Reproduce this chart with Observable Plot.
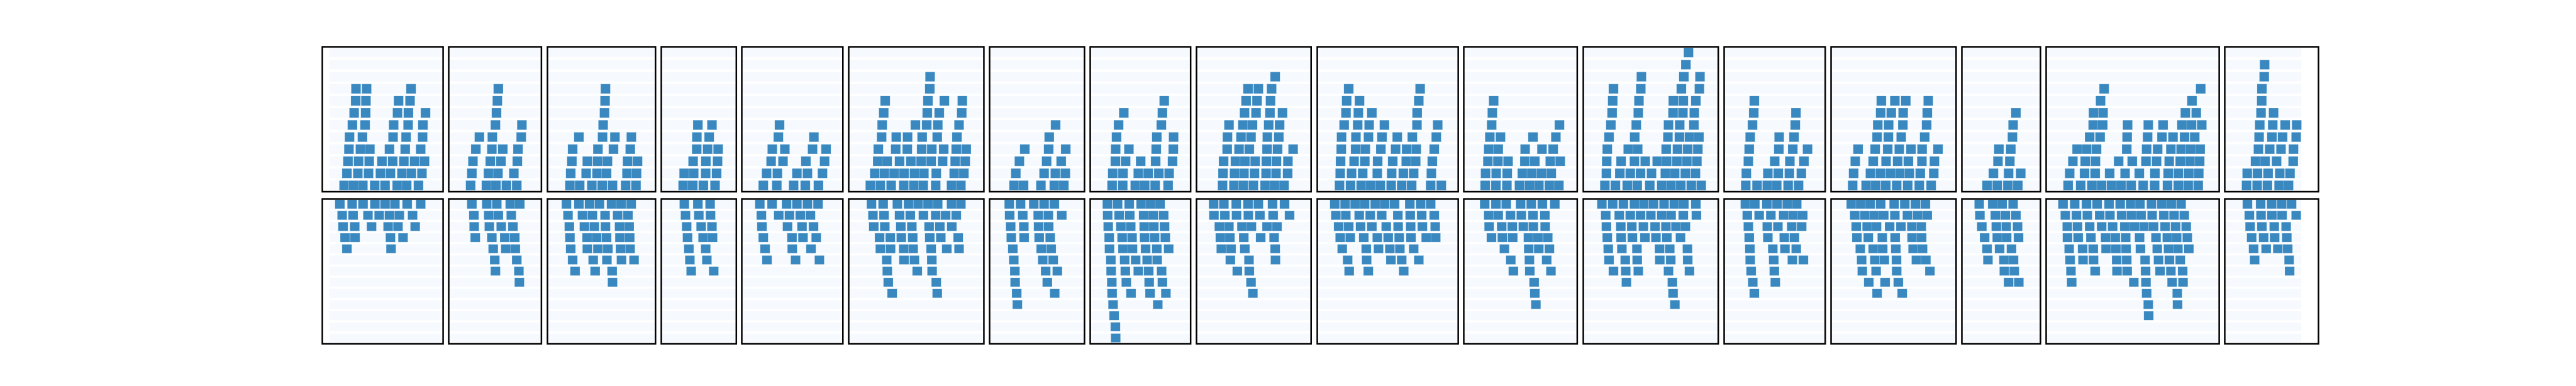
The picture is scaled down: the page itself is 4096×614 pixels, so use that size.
<!DOCTYPE html>
<html><head><meta charset="utf-8">
<script src="https://cdn.jsdelivr.net/npm/d3@7"></script>
<script src="https://cdn.jsdelivr.net/npm/@observablehq/plot@0.6"></script>
<style>
html,body{margin:0;padding:0;background:#fff;}
body{width:4096px;height:614px;position:relative;overflow:hidden;}
#chart{position:absolute;left:0;top:0;width:4096px;height:614px;}
#chart svg{position:absolute;display:block;max-width:none;}
</style></head><body><div id="chart"></div>
<script>
// Panel widths (x extent of each segment, in x units)
const panelWidths = [125.1, 96.0, 111.9, 77.7, 104.7, 140.0, 98.3, 104.0, 118.7, 146.0, 117.5, 139.8, 104.7, 129.5, 81.4, 179.2, 97.1];
// Stripe extent of the whole series (start in first panel, end in last panel)
const stripeStart = 7.6;
const stripeEnd = 79.6;
const topLevels = 12;
const bottomLevels = 13;

// Each panel: list of rows (row 0 next to the middle), each row a list of x positions of the squares
const p01Top = [[17.9,27.7,37.3,49.6,60.3,72.9,82.7,94.9],[20.8,32.1,43.2,55.5,65.9,77.8,87.6,98.5],[21.9,32.9,43.9,57.1,68.2,79.8,90.9,101.2],[22.9,34.8,44.6,64.9,81.2,97.2],[23.5,36.9,68.6,82.1,99.2],[26.5,39.6,69.2,84.2,99.5],[28.3,40.2,73.2,84.5,102.2],[29.9,40.5,74.3,86.2],[30.2,41.2,87.2]];
const p01Bottom = [[13.5,26.2,37.5,49.8,60.3,70.5,83.2,97.2],[15.9,27.2,42.6,54.2,64.9,75.1,88.8],[16.8,28.9,46.3,63.5,73.7,91.5],[18.9,29.2,65.9,78.9],[20.8,66.5]];
const p02Top = [[18.0,34.4,44.2,55.1,65.8],[19.3,36.5,46.3,62.8],[20.4,38.4,49.4,66.4],[23.4,40.0,51.3,67.1],[27.1,40.5,70.4],[43.7,71.1],[44.8],[45.7],[46.7]];
const p02Bottom = [[19.3,34.7,45.1,59.1,68.9],[21.4,36.8,46.7,60.1],[21.7,37.4,49.7,61.8],[22.8,40.0,53.4,63.7],[41.4,54.5,64.3],[43.0,65.8],[43.7,68.0],[68.5]];
const p03Top = [[18.6,28.7,41.3,52.0,62.7,76.3,87.0],[19.4,35.4,46.7,56.5,77.7,87.6],[20.6,36.6,47.3,57.5,78.3,88.6],[21.4,47.6,63.7,81.1],[27.9,52.4,65.2,82.2],[53.0],[54.4],[55.0],[55.4]];
const p03Bottom = [[15.0,27.9,38.9,49.2,61.7,71.6,82.0],[16.6,31.6,41.9,55.0,68.0,78.7],[18.0,33.6,43.9,55.4,70.0,79.9],[18.6,36.4,46.3,56.5,70.4,80.5],[19.4,36.6,47.6,57.9,71.0,80.9],[21.4,42.7,56.9,72.0,85.0],[23.9,44.7,62.3],[62.7]];
const p04Top = [[18.0,27.9,38.9,51.0],[19.0,28.9,41.3,52.6],[28.3,41.5,53.6],[32.0,43.3,54.2],[32.2,44.9],[33.2,47.8]];
const p04Bottom = [[19.2,33.2,45.9],[20.4,34.2,46.3],[21.6,36.6,47.8],[22.5,38.6,48.4],[23.9,41.3],[24.9,42.5],[26.3,49.6]];
const p05Top = [[17.6,31.6,49.0,61.1,74.7],[21.0,32.2,52.4,63.3,78.9],[25.7,38.0,61.7,81.1],[26.9,39.9,68.6,82.6],[33.2,70.0],[34.4]];
const p05Bottom = [[14.0,26.7,41.7,52.4,63.3,74.3],[15.6,33.6,44.7,55.9,66.4],[16.2,42.7,57.7,69.6],[17.6,47.3,58.7,72.4],[19.4,47.6,67.0],[21.4,51.0,75.7]];
const p06Top = [[17.7,28.1,39.3,52.3,62.8,72.5,85.4,101.8,111.5],[22.3,32.3,42.4,52.6,63.4,73.2,86.0,104.6,114.6],[25.4,35.1,48.0,59.7,70.3,80.7,92.6,105.6,116.0],[26.0,44.0,56.0,70.9,81.4,93.7,106.7,117.0],[29.4,44.6,56.3,71.4,87.0,107.4],[30.0,64.4,76.1,87.6,109.6],[31.6,76.7,89.1,112.4],[33.1,77.4,94.4,113.0],[79.3],[79.6]];
const p06Bottom = [[18.9,31.0,45.7,57.3,67.2,77.5,87.5,101.8,111.5],[20.4,31.9,48.0,59.1,72.7,85.4,95.7,106.7],[21.3,32.7,49.3,60.7,78.6,89.7,102.1],[27.3,38.4,49.8,61.6,79.3,90.7,108.7],[28.1,38.7,52.3,62.1,80.7,96.9,109.6],[34.7,52.6,63.4,81.4],[35.3,66.3,81.7],[36.3,86.0],[40.3,87.0]];
const p07Top = [[20.7,30.5,48.5,62.4,72.2],[22.5,51.8,63.4,73.8],[26.2,54.4,69.5],[31.8,56.5,74.2],[57.1],[63.7]];
const p07Bottom = [[15.7,27.4,41.1,51.8,62.4],[16.1,29.7,45.7,56.2,70.1],[17.2,30.8,46.1,56.5],[17.8,31.1,46.7,58.1],[19.4,48.8,59.1],[20.4,50.4,61.2],[21.5,53.4,65.5],[21.8,55.1],[23.4,62.8],[24.1]];
const p08Top = [[18.0,29.0,42.0,51.8,62.6,76.0],[18.7,29.3,45.1,55.4,66.4,77.1],[21.4,32.0,47.6,63.1,80.6],[21.7,35.4,63.7,81.4],[22.6,64.3,81.7],[24.7,69.0],[30.1,70.1],[72.0]];
const p08Bottom = [[13.1,23.7,35.7,48.1,57.9,67.7],[13.4,25.3,36.3,50.7,60.6,71.4],[14.0,27.1,37.3,51.3,61.2,72.3],[15.0,28.4,38.7,51.6,62.0,73.1],[15.3,29.3,39.1,52.7,64.3,76.6],[16.7,31.0,42.4,54.3,64.7],[17.0,31.7,45.1,55.9,69.3],[17.7,32.7,56.4,70.1],[18.0,37.6,57.3,73.7],[19.0,65.3],[20.1],[21.4],[21.7]];
const p09Top = [[22.3,34.1,43.9,54.3,66.4,76.2,86.0],[22.8,34.7,44.5,55.4,67.4,77.7,89.7],[23.4,35.7,45.5,56.1,67.7,78.1,90.0],[27.1,39.4,50.0,68.4,79.3,95.4],[27.4,41.4,51.8,68.7,80.6],[29.0,43.4,53.3,70.1,81.4],[45.1,57.0,71.4,84.4],[46.7,58.0,72.0],[48.7,59.4,73.1],[76.8]];
const p09Bottom = [[13.1,23.7,36.5,48.7,59.4,74.1,86.5],[13.4,24.7,36.8,49.0,61.0,74.7,91.7],[19.0,28.9,42.4,52.2,68.4,78.7],[20.1,29.9,44.3,61.8,75.7],[21.0,31.1,45.4,76.8],[30.4,49.7,77.1],[37.6,50.0],[51.8],[53.7]];
const p10Top = [[18.4,29.8,40.9,50.7,60.7,71.9,82.8,93.1,112.8,123.8],[19.1,30.9,42.4,57.5,72.4,84.5,95.2,113.5],[19.5,33.5,44.6,57.9,73.5,87.5,97.3,114.5],[20.2,35.1,45.1,61.2,76.5,87.9,97.9,116.5],[20.5,35.4,48.4,62.4,78.2,93.8,118.6],[23.2,37.2,49.1,64.9,98.6,120.1],[25.1,37.9,51.9,98.8],[25.8,39.1,100.5],[27.9,101.9]];
const p10Bottom = [[13.5,24.2,34.6,44.4,55.4,65.2,75.4,91.2,102.4,112.8],[14.6,24.9,38.8,50.2,62.1,78.8,91.6,103.5,116.5],[17.5,27.9,40.2,51.9,66.8,79.1,92.1,104.2,117.5],[19.1,29.5,43.5,57.5,68.8,80.2,92.4,108.2,118.0],[21.2,46.1,58.8,70.5,80.9,95.2],[26.8,46.5,71.6,82.8,100.5],[28.4,48.2,84.9]];
const p11Top = [[17.5,28.6,40.0,53.0,63.3,73.1,84.0,93.8],[17.9,28.9,40.3,56.0,65.8,75.8,85.9],[20.3,30.7,41.2,58.6,68.9,84.9,95.2],[21.2,31.0,58.9,76.3,87.9],[22.3,33.3,67.0,90.7],[24.2,94.4],[24.9],[26.3]];
const p11Bottom = [[17.0,28.6,39.3,54.2,65.2,76.7,89.6],[21.2,31.0,43.7,54.9,67.0,79.3],[21.6,34.6,45.6,57.0,67.4,79.6],[24.0,35.3,46.0,62.3,72.1,82.3],[37.4,62.6,73.0,84.0],[44.0,63.3,81.2],[46.7,63.7,85.6],[68.2],[68.9],[70.0]];
const p12Top = [[17.7,28.6,40.9,51.2,64.2,76.6,86.3,96.3,107.2,117.5],[19.3,33.2,44.0,54.6,66.0,80.3,90.0,101.0,111.5],[19.6,34.5,48.3,59.5,71.9,81.7,92.3,102.6,113.0],[20.2,41.9,51.7,81.2,92.9,103.5,114.0],[22.0,48.6,83.0,94.9,105.3,115.1],[23.9,50.2,83.6,95.2,109.9],[25.2,52.3,88.3,98.5,110.3],[25.8,53.0,88.6,98.9,111.9],[26.6,54.9,96.9,115.6],[55.5,99.5,116.2],[101.6],[104.3]];
const p12Bottom = [[14.6,25.8,36.9,48.3,58.1,68.1,79.0,89.6,99.5,111.9],[18.6,32.6,44.0,54.6,65.3,76.6,86.3,98.9,112.5],[19.3,34.2,45.6,57.6,69.7,80.9,91.3,101.1],[20.2,34.5,46.2,59.2,70.6,81.9,96.0],[21.2,35.3,50.9,74.3,84.9,103.2],[22.0,38.8,51.2,74.6,85.9,103.5],[26.6,39.3,52.3,83.6,105.3],[40.0,87.6],[88.3],[90.2]];
const p13Top = [[17.7,29.4,40.0,49.8,61.6,72.4],[18.3,40.6,51.4,62.9,75.3],[20.4,47.7,63.4,78.0],[21.3,52.0,66.4,81.7],[22.3,52.3,67.7],[24.7,69.0],[26.0,69.7],[26.6]];
const p13Bottom = [[17.3,27.1,39.6,50.1,60.7,70.5],[19.3,31.6,43.7,57.0,66.9,76.7],[20.4,40.0,51.0,65.3,75.6],[21.3,40.6,57.6,68.1],[22.0,45.7,58.3,70.0],[22.3,46.7,66.0,77.4],[23.3,47.3],[25.0,48.3],[26.6]];
const p14Top = [[17.7,31.7,41.6,52.0,63.3,74.7,86.7,99.0],[18.7,36.1,46.4,56.7,66.6,76.5,87.7,101.7],[20.4,39.0,52.3,64.3,75.4,89.4,102.4],[23.3,41.0,54.0,66.0,78.1,89.6,106.1],[43.0,54.7,68.0,92.3],[43.7,55.0,69.7,94.3],[46.7,57.7,70.0,95.0],[47.4,61.4,72.7,96.0]];
const p14Bottom = [[16.3,26.0,35.8,46.7,60.7,71.7,82.7,93.0],[19.9,30.4,40.2,49.9,61.4,74.4,85.0,94.9],[21.4,32.7,42.4,56.0,67.7,79.0,88.8],[22.1,33.9,48.4,61.7,79.3,89.1],[25.6,39.0,48.8,62.4,80.3,90.1],[27.0,40.7,50.5,63.1,83.7,93.5],[27.7,42.0,63.3,97.7],[34.4,51.3,65.0],[43.0,69.0]];
const p15Top = [[21.4,32.0,43.0,53.3],[28.0,43.7,56.3],[32.7,45.0],[33.7,46.0],[47.7],[48.4],[51.3]];
const p15Bottom = [[13.3,27.3,37.0,48.4],[14.0,30.0,40.3,51.3],[16.0,31.0,41.3,53.0],[18.9,32.0,41.7,54.0],[21.4,34.4,46.7],[22.3,39.0,48.8],[39.3,49.6],[43.7,54.3]];
const p16Top = [[18.1,31.1,42.8,52.8,63.1,72.9,83.4,95.8,107.7,121.0,132.2,142.4,152.8],[19.7,35.1,46.1,61.1,77.1,91.8,108.0,121.7,132.3,143.1,153.4],[23.0,35.8,46.4,70.4,84.5,98.7,109.7,122.8,134.2,144.4,154.3],[27.4,37.3,47.5,78.8,99.4,110.8,124.5,135.1,145.0,154.8],[40.4,51.2,79.2,100.4,115.3,126.7,138.7,149.2],[44.1,53.9,79.7,101.1,116.4,136.0,145.9,156.5],[44.4,54.3,139.5,150.8],[51.7,146.4],[55.4,155.4]];
const p16Bottom = [[12.8,24.9,37.1,48.1,60.5,72.0,82.8,92.5,104.4,115.2,124.9,135.1],[15.2,26.7,38.0,50.8,61.4,73.5,83.7,93.6,105.1,117.2,127.8,138.4],[17.2,27.8,40.4,52.8,64.2,76.8,86.6,96.7,106.6,118.5,129.4,140.4],[17.4,28.5,41.7,56.9,66.9,77.7,92.1,109.1,120.8,130.5,141.5],[19.2,33.1,44.1,57.4,67.6,78.1,93.0,110.4,122.1,131.8,143.1],[20.1,33.5,44.4,68.4,78.8,97.8,111.7,123.0,134.2],[21.0,46.1,68.7,79.2,98.3,113.3,124.5,136.7],[21.8,86.1,98.7,125.8,137.1],[99.4,131.1],[101.1,131.4],[101.5]];
const p17Top = [[17.9,28.9,39.5,51.6,61.4],[18.6,29.2,40.2,52.3,62.9],[27.2,37.1,49.0,66.2],[30.2,41.9,53.6,66.5],[30.9,44.2,55.2,69.3],[31.6,45.0,57.9,69.8],[32.9,45.9],[33.6],[33.8],[36.2],[36.6]];
const p17Bottom = [[18.8,32.5,43.9,54.3,64.5],[20.8,32.9,44.2,54.7,69.3],[21.6,33.8,46.6,58.9],[23.2,35.6,47.0,59.6],[25.2,38.2,50.3,60.5],[26.3,62.0],[62.5]];

const topPanels = [p01Top,p02Top,p03Top,p04Top,p05Top,p06Top,p07Top,p08Top,p09Top,p10Top,p11Top,p12Top,p13Top,p14Top,p15Top,p16Top,p17Top];
const bottomPanels = [p01Bottom,p02Bottom,p03Bottom,p04Bottom,p05Bottom,p06Bottom,p07Bottom,p08Bottom,p09Bottom,p10Bottom,p11Bottom,p12Bottom,p13Bottom,p14Bottom,p15Bottom,p16Bottom,p17Bottom];

// ---- layout & style ----
const SQ = 10;            // square width in x units
const LEFT = 511.7, RIGHT = 3686.2, TOP = 74.1, BOTTOM = 546.0;
const GAPX = 9.2, GAPY = 10.9;
const n = panelWidths.length;
const halfH = (BOTTOM - TOP - GAPY) / 2;
const pxPerUnit = (RIGHT - LEFT - GAPX * (n - 1)) / d3.sum(panelWidths);
const BLUE = "#3a88c0", STRIPE = "#f6faff";

const chart = document.getElementById("chart");
const flat = rows => rows.flatMap((xs, r) => xs.map(x => ({x, row: r})));

function half(i, rows, levels, flip) {
  const W = panelWidths[i];
  const s0 = i === 0 ? stripeStart : 0;
  const s1 = i === n - 1 ? stripeEnd : W;
  const stripes = d3.range(levels).map(r => ({row: r}));
  return Plot.plot({
    width: W * pxPerUnit,
    height: halfH,
    margin: 0,
    x: {domain: [0, W], axis: null},
    y: {domain: [0, levels], reverse: flip, axis: null},
    style: {overflow: "visible", background: "transparent"},
    marks: [
      Plot.rect(stripes, {x1: () => s0, x2: () => s1, y1: d => d.row + 0.1, y2: d => d.row + 0.9, fill: STRIPE}),
      Plot.rect(flat(rows), {x1: "x", x2: d => d.x + SQ, y1: d => d.row + 0.1, y2: d => d.row + 0.9,
        fill: BLUE, stroke: "#ffffff", strokeOpacity: 0.45, strokeWidth: 0.5}),
      Plot.frame({stroke: "#000", strokeWidth: 2.5})
    ]
  });
}

let x = LEFT;
for (let i = 0; i < n; ++i) {
  const w = panelWidths[i] * pxPerUnit;
  const a = half(i, topPanels[i], topLevels, false);
  a.style.left = x + "px"; a.style.top = TOP + "px";
  const b = half(i, bottomPanels[i], bottomLevels, true);
  b.style.left = x + "px"; b.style.top = (TOP + halfH + GAPY) + "px";
  chart.appendChild(a); chart.appendChild(b);
  x += w + GAPX;
}
</script></body></html>
